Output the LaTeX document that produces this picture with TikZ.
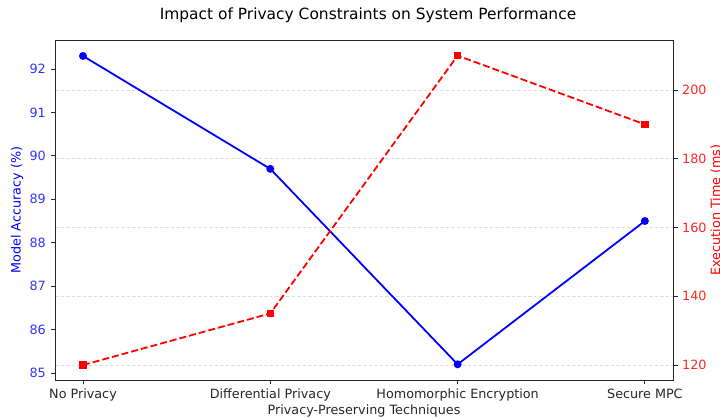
\documentclass[tikz,border=0pt]{standalone}
\usepackage{fontspec}
\setmainfont{DejaVu Sans}
\begin{document}
\begin{tikzpicture}[x=1bp,y=1bp,
  spine/.style={draw=black!85,line width=1bp},
  tickmark/.style={draw=black!85,line width=1bp},
  gridline/.style={draw=gray!25,line width=1bp,dash pattern=on 3.8bp off 1.7bp},
  accline/.style={draw=blue,line width=1.8bp},
  timeline/.style={draw=red,line width=1.8bp,dash pattern=on 7bp off 3bp},
  accmark/.style={circle,fill=blue,draw=none,minimum size=8bp,inner sep=0},
  timemark/.style={rectangle,fill=red,draw=none,minimum size=7.5bp,inner sep=0},
  ticklab/.style={inner sep=0,font=\fontsize{12.8}{15}\selectfont},
  axlab/.style={inner sep=0,font=\fontsize{12.8}{15}\selectfont},
]
\useasboundingbox (0,0) rectangle (720,418);
% grid
\foreach \v in {120,140,...,200}{
  \draw[gridline] (55,{53+(\v-120)*3.4375}) -- (673,{53+(\v-120)*3.4375});
}
% data points
\coordinate (a0) at (83,{349+(92.3-92)*43.43});
\coordinate (a1) at ({83+187.3},{349+(89.7-92)*43.43});
\coordinate (a2) at ({83+2*187.3},{349+(85.2-92)*43.43});
\coordinate (a3) at ({83+3*187.3},{349+(88.5-92)*43.43});
\coordinate (t0) at (83,{53+(120-120)*3.4375});
\coordinate (t1) at ({83+187.3},{53+(135-120)*3.4375});
\coordinate (t2) at ({83+2*187.3},{53+(210-120)*3.4375});
\coordinate (t3) at ({83+3*187.3},{53+(190-120)*3.4375});
\draw[accline] (a0) -- (a1) -- (a2) -- (a3);
\draw[timeline] (t0) -- (t1) -- (t2) -- (t3);
\foreach \i in {0,1,2,3}{
  \node[accmark] (am\i) at (a\i) {};
  \node[timemark] (tm\i) at (t\i) {};
}
% spines
\draw[spine] (55,38) rectangle (673,377.5);
% left ticks
\foreach \v in {85,...,92}{
  \draw[tickmark] (55,{349+(\v-92)*43.43}) -- (50.5,{349+(\v-92)*43.43});
  \node[ticklab,anchor=east,text=blue!80!white] (ly\v) at (46,{349+(\v-92)*43.43}) {\v};
}
% right ticks
\foreach \v in {120,140,...,200}{
  \draw[tickmark] (673,{53+(\v-120)*3.4375}) -- (677.5,{53+(\v-120)*3.4375});
  \node[ticklab,anchor=west,text=red!85!white] (ry\v) at (682,{53+(\v-120)*3.4375}) {\v};
}
% x ticks
\foreach \i/\t in {0/No Privacy,1/Differential Privacy,2/Homomorphic Encryption,3/Secure MPC}{
  \draw[tickmark] ({83+\i*187.3},38) -- ({83+\i*187.3},34);
  \node[ticklab,anchor=base,text=black!85] (xl\i) at ({83+\i*187.3},19.8) {\t};
}
% axis labels
\node[axlab,anchor=base,text=black!85] (xlabel) at (364,3.8) {Privacy-Preserving Techniques};
\node[axlab,rotate=90,text=blue] (ylabel) at (17,208) {Model Accuracy (\%)};
\node[axlab,rotate=90,text=red] (y2label) at (716,208) {Execution Time (ms)};
\node[inner sep=0,anchor=base,font=\fontsize{15.5}{18}\selectfont] (title) at (368,398) {Impact of Privacy Constraints on System Performance};
\end{tikzpicture}
\end{document}
